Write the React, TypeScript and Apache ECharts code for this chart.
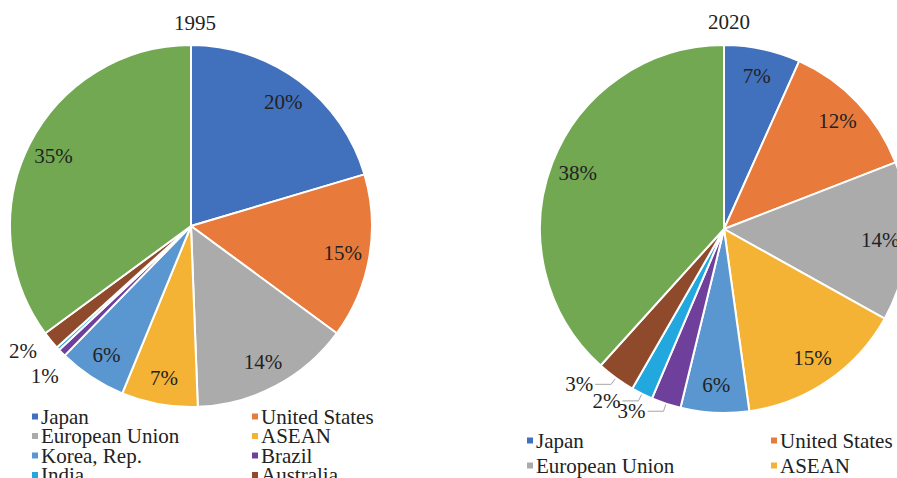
import React, { useEffect, useRef } from 'react';
import * as echarts from 'echarts';

const categories = ['Japan', 'United States', 'European Union', 'ASEAN', 'Korea, Rep.', 'Brazil', 'India', 'Australia', 'Others'];
const values1995 = [20.4, 14.7, 14.3, 6.8, 6.1, 0.7, 0.3, 1.6, 35.1];
const values2020 = [6.7, 12.4, 14.0, 14.7, 6.0, 2.6, 1.9, 3.4, 38.3];
const titles = ['1995', '2020'];
const legendCol1 = ['Japan', 'European Union', 'Korea, Rep.', 'India'];
const legendCol2 = ['United States', 'ASEAN', 'Brazil', 'Australia'];

const colors = ['#4170BC', '#E87B3C', '#ABABAB', '#F5B336', '#5A96CF', '#6F3F9C', '#22A8DE', '#8F4A2B', '#71A851'];
const FONT = 'Liberation Serif, DejaVu Serif, serif';
const TEXT = '#222';
const FS = 21;

const fmt = (p: any) => Math.round(p.value) + '%';

function mainSeries(values: number[], center: number[], radius: number, outside: number[], showLine: boolean, len: number, len2: number, nudge: Record<number, { dx: number; dy: number }>) {
  return {
    type: 'pie',
    center,
    radius,
    startAngle: 90,
    avoidLabelOverlap: false,
    itemStyle: { borderColor: '#fff', borderWidth: 2 },
    label: { show: false },
    labelLine: { show: false },
    labelLayout: (p: any) => nudge[p.dataIndex] || {},
    emphasis: { disabled: true },
    data: categories.map((name, i) => {
      const out = outside.includes(i);
      return {
        name,
        value: values[i],
        itemStyle: { color: colors[i] },
        label: out
          ? { show: true, position: 'outside', formatter: fmt, fontSize: FS, color: TEXT, fontFamily: FONT, distanceToLabelLine: 2 }
          : { show: false },
        labelLine: out
          ? { show: showLine, length: len, length2: len2, smooth: false, lineStyle: { color: '#A6A6A6', width: 1 } }
          : { show: false },
      };
    }),
  };
}

function overlaySeries(values: number[], center: number[], radius: number, outside: number[]) {
  return {
    type: 'pie',
    center,
    radius: [radius * 0.67, radius],
    startAngle: 90,
    silent: true,
    legendHoverLink: false,
    avoidLabelOverlap: false,
    itemStyle: { color: 'rgba(0,0,0,0)', borderWidth: 0 },
    emphasis: { disabled: true },
    labelLine: { show: false },
    label: { show: true, position: 'inside', formatter: fmt, fontSize: FS, color: TEXT, fontFamily: FONT },
    data: categories.map((name, i) => ({
      name,
      value: values[i],
      label: outside.includes(i) || values[i] < 1 ? { show: false } : undefined,
    })),
  };
}

function legend(data: string[], left: number, top: number, gap: number) {
  return {
    orient: 'vertical',
    left,
    top,
    height: 300,
    data,
    icon: 'rect',
    itemWidth: 8,
    itemHeight: 8,
    itemGap: gap,
    padding: 0,
    selectedMode: false,
    textStyle: { fontSize: FS, color: TEXT, fontFamily: FONT, padding: [0, 0, 0, -3] },
  };
}

export default function App() {
  const ref = useRef<HTMLDivElement>(null);
  useEffect(() => {
    if (!ref.current) return;
    const chart = echarts.init(ref.current, undefined, { renderer: 'svg' });
    const c1 = [191, 226];
    const c2 = [724, 229];
    chart.setOption({
      animation: false,
      backgroundColor: '#fff',
      textStyle: { fontFamily: FONT },
      title: [
        { text: titles[0], left: 190, top: 7, textAlign: 'center', textStyle: { fontSize: FS, fontWeight: 'normal', color: TEXT, fontFamily: FONT } },
        { text: titles[1], left: 724, top: 6, textAlign: 'center', textStyle: { fontSize: FS, fontWeight: 'normal', color: TEXT, fontFamily: FONT } },
      ],
      legend: [
        legend(legendCol1, 30, 406, -1.5),
        legend(legendCol2, 250, 406, -1.5),
        legend(legendCol1, 525, 430, 4),
        legend(legendCol2, 769, 430, 4),
      ],
      series: [
        mainSeries(values1995, c1, 181, [5, 7], false, 10, 0, { 5: { dx: 6, dy: 16 }, 7: { dx: -4, dy: 4 } }),
        mainSeries(values2020, c2, 184, [5, 6, 7], true, 8, 16, {}),
        overlaySeries(values1995, c1, 181, [5, 6, 7]),
        overlaySeries(values2020, c2, 184, [5, 6, 7]),
      ],
    });
    return () => chart.dispose();
  }, []);
  return <div ref={ref} style={{ position: 'fixed', left: 0, top: 0, width: 897, height: 478 }} />;
}
